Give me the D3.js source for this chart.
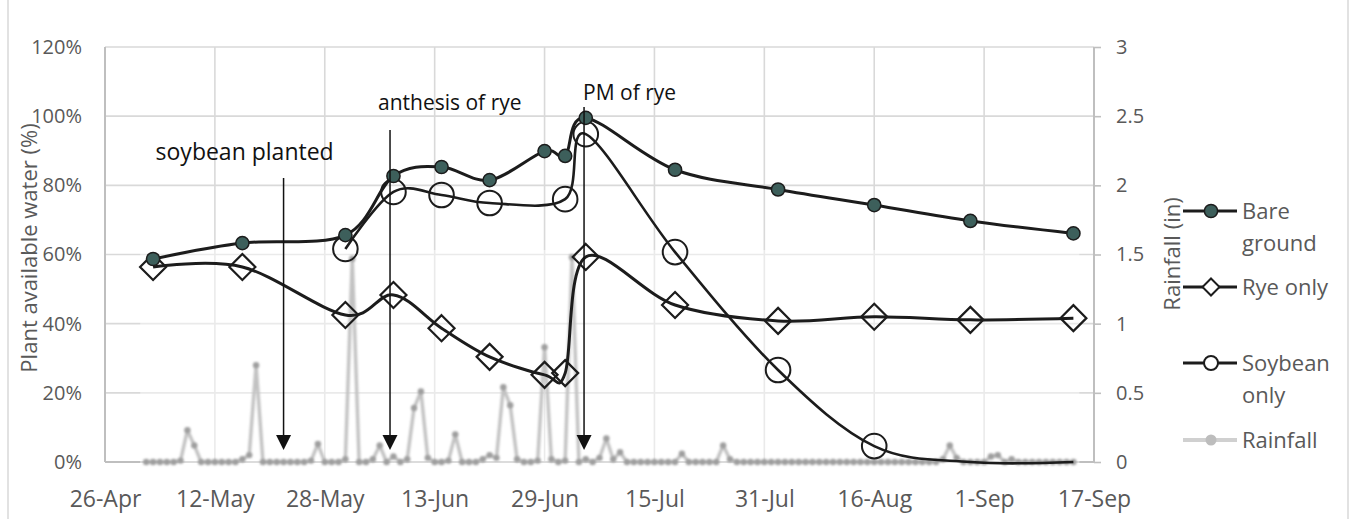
<!DOCTYPE html>
<html>
<head>
<meta charset="utf-8">
<script src="https://cdn.jsdelivr.net/npm/d3@7"></script>
<style>
  html, body { margin: 0; padding: 0; background: #ffffff; }
  svg { display: block; }
  text { font-family: "Open Sans", "Noto Sans", sans-serif; }
</style>
</head>
<body>
<svg id="chart" width="1351" height="519"></svg>
<script>
// ---------------- DATA ----------------
const year = 2019;
const xTickLabels = ["26-Apr","12-May","28-May","13-Jun","29-Jun","15-Jul","31-Jul","16-Aug","1-Sep","17-Sep"];
const yLeftTicks = [0, 0.2, 0.4, 0.6, 0.8, 1.0, 1.2];
const yLeftLabels = ["0%","20%","40%","60%","80%","100%","120%"];
const yRightTicks = [0, 0.5, 1, 1.5, 2, 2.5, 3];
const yRightLabels = ["0","0.5","1","1.5","2","2.5","3"];

// sampling dates for bare ground and rye only
const sampleDates = ["3-May","16-May","31-May","7-Jun","14-Jun","21-Jun","29-Jun","2-Jul","5-Jul","18-Jul","2-Aug","16-Aug","30-Aug","14-Sep"];
const bareGround  = [0.587,0.633,0.656,0.827,0.853,0.815,0.899,0.885,0.995,0.845,0.788,0.743,0.697,0.661];
const ryeOnly     = [0.564,0.564,0.425,0.483,0.387,0.304,0.252,0.257,0.593,0.454,0.408,0.420,0.411,0.416];

// sampling dates for soybean only
const soyDates    = ["31-May","7-Jun","14-Jun","21-Jun","2-Jul","5-Jul","18-Jul","2-Aug","16-Aug","30-Aug","14-Sep"];
const soybeanOnly = [0.616,0.781,0.772,0.749,0.760,0.948,0.607,0.266,0.046,0,0];

// daily rainfall (in), from 2-May to 14-Sep
const rainStart = "2-May";
const rainfall = [
  // May 2..31
  0,0,0,0,0,0.01,0.23,0.12,0,0,0,0,0,0,0.02,0.05,0.70,0,0,0,0,0,0,0,0.01,0.13,0,0,0,0.02,
  // Jun 1..30
  1.47,0,0,0.02,0.12,0,0.04,0,0.02,0.39,0.51,0.03,0,0,0.01,0.20,0,0,0,0.02,0.05,0.03,0.54,0.41,0.02,0,0,0.01,0.83,0.02,
  // Jul 1..31
  0,0.01,1.48,0,0.02,0,0.03,0.17,0.02,0.07,0,0,0,0,0,0,0,0,0.06,0,0,0,0,0,0.12,0.02,0,0,0,0,0,
  // Aug 1..31
  0,0,0,0,0,0,0,0,0,0,0,0,0,0,0,0,0,0,0,0,0,0,0,0,0,0.02,0.12,0.03,0,0,0,
  // Sep 1..14
  0,0.04,0.05,0,0.02,0,0,0,0,0,0,0,0,0
];

// annotations (arrow date, label)
const annotations = [
  { label: "soybean planted", date: "22-May", hour: 0 },
  { label: "anthesis of rye", date: "6-Jun", hour: 12 },
  { label: "PM of rye",       date: "4-Jul", hour: 18 }
];

const legendItems = ["Bare ground", "Rye only", "Soybean only", "Rainfall"];

// ---------------- SETUP ----------------
const parse = d3.timeParse("%d-%b-%Y");
const toDate = s => parse(s + "-" + year);

const W = 1351, H = 519;
const plot = { left: 105, right: 1094, top: 47, bottom: 462 };

const x = d3.scaleTime()
  .domain([toDate(xTickLabels[0]), toDate(xTickLabels[xTickLabels.length - 1])])
  .range([plot.left, plot.right]);
const y = d3.scaleLinear().domain([0, 1.2]).range([plot.bottom, plot.top]);
const yR = d3.scaleLinear().domain([0, 3]).range([plot.bottom, plot.top]);

const svg = d3.select("#chart");
const textGray = "#595959";
const gridGray = "#d9d9d9";
const axisGray = "#bfbfbf";
const ink = "#1c1c1c";

// outer chart border (left/right edges)
svg.append("line").attr("x1", 8).attr("x2", 8).attr("y1", 0).attr("y2", H)
  .attr("stroke", gridGray).attr("stroke-width", 1.5);
svg.append("line").attr("x1", 1348).attr("x2", 1348).attr("y1", 0).attr("y2", H)
  .attr("stroke", gridGray).attr("stroke-width", 1.5);

// gridlines
const tickDates = xTickLabels.map(toDate);
const grid = svg.append("g");
grid.selectAll("line.h").data(yLeftTicks).join("line")
  .attr("x1", plot.left).attr("x2", plot.right)
  .attr("y1", d => y(d)).attr("y2", d => y(d))
  .attr("stroke", gridGray).attr("stroke-width", 1.6);
grid.selectAll("line.v").data(tickDates).join("line")
  .attr("x1", d => x(d)).attr("x2", d => x(d))
  .attr("y1", plot.top).attr("y2", plot.bottom)
  .attr("stroke", gridGray).attr("stroke-width", 1.6);

// axis lines
svg.append("line").attr("x1", plot.left).attr("x2", plot.left).attr("y1", plot.top).attr("y2", plot.bottom)
  .attr("stroke", axisGray).attr("stroke-width", 2);
svg.append("line").attr("x1", plot.right).attr("x2", plot.right).attr("y1", plot.top).attr("y2", plot.bottom)
  .attr("stroke", axisGray).attr("stroke-width", 2);
svg.append("line").attr("x1", plot.left).attr("x2", plot.right).attr("y1", plot.bottom).attr("y2", plot.bottom)
  .attr("stroke", axisGray).attr("stroke-width", 2);

// axes
const xAxis = d3.axisBottom(x).tickValues(tickDates)
  .tickFormat((d, i) => xTickLabels[i]).tickSize(0).tickPadding(29);
const gx = svg.append("g").attr("transform", `translate(0,${plot.bottom})`).call(xAxis);

const yAxis = d3.axisLeft(y).tickValues(yLeftTicks)
  .tickFormat((d, i) => yLeftLabels[i]).tickSize(0).tickPadding(23);
const gy = svg.append("g").attr("transform", `translate(${plot.left},0)`).call(yAxis);

const yRAxis = d3.axisRight(yR).tickValues(yRightTicks)
  .tickFormat((d, i) => yRightLabels[i]).tickSize(7).tickPadding(15);
const gyr = svg.append("g").attr("transform", `translate(${plot.right},0)`).call(yRAxis);

[gx, gy, gyr].forEach(g => {
  g.select(".domain").remove();
  g.selectAll("text").attr("fill", textGray).style("font-size", "20px");
  g.selectAll(".tick line").attr("stroke", axisGray).attr("stroke-width", 1.6);
});
gx.selectAll("text").style("font-size", "23px");

// axis titles
svg.append("text").attr("transform", "translate(37,248) rotate(-90)")
  .attr("text-anchor", "middle").attr("fill", textGray).style("font-size", "22px")
  .text("Plant available water (%)");
svg.append("text").attr("transform", "translate(1180,254) rotate(-90)")
  .attr("text-anchor", "middle").attr("fill", textGray).style("font-size", "22px")
  .text("Rainfall (in)");

// white backdrop of rainfall panel
const rainDates = rainfall.map((v, i) => d3.timeDay.offset(toDate(rainStart), i));
svg.append("rect")
  .attr("x", x(rainDates[0]) - 6).attr("y", 250)
  .attr("width", x(rainDates[rainDates.length - 1]) - x(rainDates[0]) + 12)
  .attr("height", plot.bottom + 8 - 250)
  .attr("fill", "#ffffff").attr("opacity", 0.45);

// blur filter for rainfall
const defs = svg.append("defs");
defs.append("filter").attr("id", "soft").append("feGaussianBlur").attr("stdDeviation", 0.8);

// rainfall series
const rainG = svg.append("g").attr("filter", "url(#soft)");
const rainLine = d3.line().x((d, i) => x(rainDates[i])).y(d => yR(d));
rainG.append("path").datum(rainfall).attr("d", rainLine)
  .attr("fill", "none").attr("stroke", "#c2c2c2").attr("stroke-width", 3.4)
  .attr("stroke-linejoin", "round");
rainG.selectAll("circle").data(rainfall).join("circle")
  .attr("cx", (d, i) => x(rainDates[i])).attr("cy", d => yR(d)).attr("r", 3.2)
  .attr("fill", "#9f9f9f");

// smoothed lines (Excel-like)
const curve = d3.curveCatmullRom.alpha(0);
const sDates = sampleDates.map(toDate);
const soyD = soyDates.map(toDate);

const lineGen = dates => d3.line().curve(curve).x((d, i) => x(dates[i])).y(d => y(d));

// soybean only
svg.append("path").datum(soybeanOnly).attr("d", lineGen(soyD))
  .attr("fill", "none").attr("stroke", ink).attr("stroke-width", 2.6);
svg.append("g").selectAll("circle").data(soybeanOnly.map((v, i) => ({ v, d: soyD[i] })).filter(p => p.v > 0))
  .join("circle").attr("cx", p => x(p.d)).attr("cy", p => y(p.v)).attr("r", 12.3)
  .attr("fill", "none").attr("stroke", ink).attr("stroke-width", 2);

// rye only
svg.append("path").datum(ryeOnly).attr("d", lineGen(sDates))
  .attr("fill", "none").attr("stroke", ink).attr("stroke-width", 3);
const diamond = (cx, cy, r) => `M${cx},${cy - r}L${cx + r},${cy}L${cx},${cy + r}L${cx - r},${cy}Z`;
svg.append("g").selectAll("path").data(ryeOnly).join("path")
  .attr("d", (d, i) => diamond(x(sDates[i]), y(d), 13))
  .attr("fill", "none").attr("stroke", ink).attr("stroke-width", 2.2);

// bare ground
svg.append("path").datum(bareGround).attr("d", lineGen(sDates))
  .attr("fill", "none").attr("stroke", ink).attr("stroke-width", 3);
svg.append("g").selectAll("circle").data(bareGround).join("circle")
  .attr("cx", (d, i) => x(sDates[i])).attr("cy", d => y(d)).attr("r", 6.6)
  .attr("fill", "#3d5f5b").attr("stroke", ink).attr("stroke-width", 1.5);

// annotations with arrows
const arrowTops = [178, 130, 107];
const labelPos = [{ dx: -128, y: 160, fs: 23 }, { dx: -12, y: 110, fs: 21 }, { dx: -1, y: 100, fs: 21 }];
const tipY = 450;
annotations.forEach((a, i) => {
  const ax = x(d3.timeHour.offset(toDate(a.date), a.hour));
  svg.append("line").attr("x1", ax).attr("x2", ax).attr("y1", arrowTops[i]).attr("y2", tipY - 12)
    .attr("stroke", "#111").attr("stroke-width", 1.5);
  svg.append("path").attr("d", `M${ax - 7.5},${tipY - 15}L${ax + 7.5},${tipY - 15}L${ax},${tipY}Z`)
    .attr("fill", "#111");
  svg.append("text").attr("x", ax + labelPos[i].dx).attr("y", labelPos[i].y)
    .attr("fill", "#111").style("font-size", labelPos[i].fs + "px").text(a.label);
});

// legend
const legY = [211, 287, 363, 440];
const leg = svg.append("g");
legendItems.forEach((name, i) => {
  const ly = legY[i];
  const lx1 = 1183, lx2 = 1237, mx = 1211;
  const isRain = i === 3;
  leg.append("line").attr("x1", lx1).attr("x2", lx2).attr("y1", ly).attr("y2", ly)
    .attr("stroke", isRain ? "#d0d0d0" : ink).attr("stroke-width", isRain ? 4 : 3);
  if (i === 0) leg.append("circle").attr("cx", mx).attr("cy", ly).attr("r", 6.6)
    .attr("fill", "#3d5f5b").attr("stroke", ink).attr("stroke-width", 1.5);
  if (i === 1) leg.append("path").attr("d", diamond(mx, ly, 8.5))
    .attr("fill", "#fff").attr("stroke", ink).attr("stroke-width", 2);
  if (i === 2) leg.append("circle").attr("cx", mx).attr("cy", ly).attr("r", 7)
    .attr("fill", "#fff").attr("stroke", ink).attr("stroke-width", 2);
  if (i === 3) leg.append("circle").attr("cx", mx).attr("cy", ly).attr("r", 5.5)
    .attr("fill", "#bdbdbd");
  const words = name.split(" ");
  const lines = (i === 0 || i === 2) ? [words[0], words[1]] : [name];
  lines.forEach((t, j) => {
    leg.append("text").attr("x", 1242).attr("y", ly + j * 32).attr("dy", "0.35em")
      .attr("fill", textGray).style("font-size", "22px").text(t);
  });
});
</script>
</body>
</html>
